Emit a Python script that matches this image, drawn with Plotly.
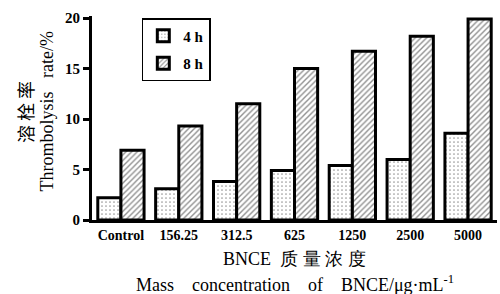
import plotly.graph_objects as go

categories = ["Control", "156.25", "312.5", "625", "1250", "2500", "5000"]
rate_4h = [2.2, 3.1, 3.8, 4.9, 5.4, 6.0, 8.6]
rate_8h = [6.9, 9.3, 11.5, 15.0, 16.7, 18.2, 19.9]
y_ticks = [0, 5, 10, 15, 20]

serif = "Liberation Serif"
cjk = "Noto Sans CJK SC"
sp = "\u00a0"

fig = go.Figure()
fig.add_bar(
    x=categories, y=rate_4h, name="<b>4 h</b>", legendgroup="a",
    marker=dict(color="white", line=dict(color="black", width=3),
                pattern=dict(shape=".", fgcolor="#333", bgcolor="white", size=4, solidity=0.15)),
)
fig.add_bar(
    x=categories, y=rate_8h, name="<b>8 h</b>", legendgroup="b",
    marker=dict(color="white", line=dict(color="black", width=3),
                pattern=dict(shape="/", fgcolor="#222", bgcolor="white", size=4, solidity=0.35)),
)

fig.update_layout(
    width=500, height=294,
    margin=dict(l=92, r=3, t=16, b=74),
    paper_bgcolor="white", plot_bgcolor="white",
    barmode="group", bargap=0.2, bargroupgap=0.0,
    showlegend=True,
    legend=dict(x=0.123, y=0.99, xanchor="left", yanchor="top",
                bordercolor="black", borderwidth=1.5, bgcolor="white",
                font=dict(family=serif, size=15, color="black"),
                tracegroupgap=5, traceorder="grouped"),
    font=dict(family=serif, color="black"),
)
fig.update_xaxes(
    showline=True, linewidth=3, linecolor="black", ticks="",
    tickfont=dict(family=serif, size=14, color="black"),
    tickvals=categories, ticktext=["<b>%s</b>" % c for c in categories],
    range=[-0.5, 6.5], showgrid=False,
)
fig.update_yaxes(
    range=[0, 20.2], showline=True, linewidth=3, linecolor="black",
    ticks="outside", ticklen=6, tickwidth=3, tickcolor="black",
    tickvals=y_ticks, ticktext=["<b>%d</b>" % t for t in y_ticks],
    tickfont=dict(family=serif, size=15, color="black"),
    showgrid=False, zeroline=False,
)

fig.add_annotation(text="溶" + sp + "栓" + sp + "率", xref="paper", yref="paper", x=-0.165, y=0.53,
                   xanchor="center", yanchor="middle",
                   textangle=-90, showarrow=False, font=dict(family=cjk, size=18, color="black"))
fig.add_annotation(text="Thrombolysis" + sp * 3 + "rate/%", xref="paper", yref="paper", x=-0.112, y=0.53,
                   xanchor="center", yanchor="middle",
                   textangle=-90, showarrow=False, font=dict(family=serif, size=18, color="black"))
fig.add_annotation(text="BNCE" + sp * 2 + "质" + sp + "量" + sp + "浓" + sp + "度", xref="paper", yref="paper",
                   x=0.5, y=-0.19, xanchor="center", yanchor="middle", showarrow=False,
                   font=dict(family=serif, size=18, color="black"))
fig.add_annotation(text="Mass" + sp * 4 + "concentration" + sp * 4 + "of" + sp * 4 + "BNCE/μg·mL<sup>-1</sup>",
                   xref="paper", yref="paper",
                   x=0.5, y=-0.31, xanchor="center", yanchor="middle", showarrow=False,
                   font=dict(family=serif, size=18, color="black"))

fig.write_html("out.html", config={"displayModeBar": False},
               post_script="document.body.style.margin='0';document.body.style.padding='0';")
